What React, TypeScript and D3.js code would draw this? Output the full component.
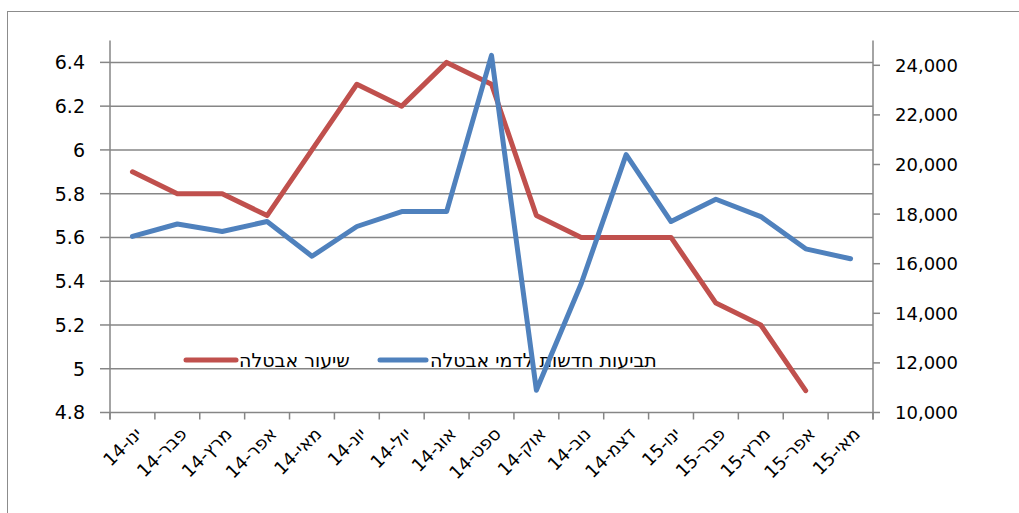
import React from "react";
import * as d3 from "d3";

const categories = [
  "ינו-14", "פבר-14", "מרץ-14", "אפר-14", "מאי-14", "יונ-14", "יול-14", "אוג-14",
  "ספט-14", "אוק-14", "נוב-14", "דצמ-14", "ינו-15", "פבר-15", "מרץ-15", "אפר-15", "מאי-15",
];

// שיעור אבטלה (left axis, %)
const unemploymentRate: (number | null)[] = [
  5.9, 5.8, 5.8, 5.7, 6.0, 6.3, 6.2, 6.4, 6.3, 5.7, 5.6, 5.6, 5.6, 5.3, 5.2, 4.9, null,
];

// תביעות חדשות לדמי אבטלה (right axis)
const newClaims = [
  17100, 17600, 17300, 17700, 16300, 17500, 18100, 18100, 24400, 10900, 15200, 20400,
  17700, 18600, 17900, 16600, 16200,
];

const leftTicks = [4.8, 5.0, 5.2, 5.4, 5.6, 5.8, 6.0, 6.2, 6.4];
const rightTicks = [10000, 12000, 14000, 16000, 18000, 20000, 22000, 24000];

const seriesNames = ["שיעור אבטלה", "תביעות חדשות לדמי אבטלה"];
const seriesColors = ["#C0504D", "#4F81BD"];

export default function App() {
  const W = 1019;
  const H = 513;
  const left = 110;
  const right = 873;
  const top = 40.5;
  const bottom = 412.5;
  const font = "'DejaVu Sans', sans-serif";
  const axisColor = "#868686";

  const x = d3.scaleBand<string>().domain(categories).range([left, right]).padding(0);
  const yL = d3.scaleLinear().domain([4.8, 6.5]).range([bottom, top]);
  const yR = d3.scaleLinear().domain([10000, 25000]).range([bottom, top]);
  const cx = (i: number) => (x(categories[i]) as number) + x.bandwidth() / 2;

  const redLine = d3
    .line<number | null>()
    .defined((d) => d !== null)
    .x((_, i) => cx(i))
    .y((d) => yL(d as number));
  const blueLine = d3
    .line<number>()
    .x((_, i) => cx(i))
    .y((d) => yR(d));

  const fmtL = (v: number) => (Math.round(v * 10) % 10 === 0 ? d3.format("d")(v) : d3.format(".1f")(v));
  const fmtR = d3.format(",");

  const boundaries = d3.range(categories.length + 1).map((i) => left + i * x.bandwidth());

  return (
    <svg
      width={W}
      height={H}
      style={{ position: "absolute", left: 0, top: 0, background: "#fff" }}
      fontFamily={font}
    >
      <rect x={0} y={0} width={W} height={H} fill="#fff" />
      {/* chart border */}
      <rect x={7.5} y={11.5} width={W + 20} height={H + 20} fill="none" stroke="#8c8c8c" strokeWidth={1} />

      {/* gridlines */}
      {leftTicks.slice(1).map((t) => (
        <line key={"g" + t} x1={left} x2={right} y1={yL(t)} y2={yL(t)} stroke={axisColor} strokeWidth={1.5} />
      ))}

      {/* left axis */}
      <line x1={left} x2={left} y1={top} y2={bottom + 7} stroke={axisColor} strokeWidth={1.5} />
      {leftTicks.map((t) => (
        <g key={"l" + t}>
          <line x1={left - 10} x2={left} y1={yL(t)} y2={yL(t)} stroke={axisColor} strokeWidth={1.5} />
          <text x={85} y={yL(t)} dy="0.36em" textAnchor="end" fontSize={19} fill="#000">
            {fmtL(t)}
          </text>
        </g>
      ))}

      {/* right axis */}
      <line x1={right} x2={right} y1={top} y2={bottom + 7} stroke={axisColor} strokeWidth={1.5} />
      {rightTicks.map((t) => (
        <g key={"r" + t}>
          <line x1={right} x2={right + 7} y1={yR(t)} y2={yR(t)} stroke={axisColor} strokeWidth={1.5} />
          <text x={895} y={yR(t)} dy="0.36em" textAnchor="start" fontSize={18} fill="#000">
            {fmtR(t)}
          </text>
        </g>
      ))}

      {/* x axis */}
      <line x1={left} x2={right} y1={bottom} y2={bottom} stroke={axisColor} strokeWidth={1.5} />
      {boundaries.map((b, i) => (
        <line key={"xt" + i} x1={b} x2={b} y1={bottom} y2={bottom + 7} stroke={axisColor} strokeWidth={1.5} />
      ))}
      {categories.map((c, i) => (
        <text
          key={"xl" + c}
          transform={`translate(${cx(i) + 6},${bottom + 18}) rotate(-45)`}
          textAnchor="end"
          dy="0.36em"
          fontSize={18}
          fill="#000"
        >
          {c}
        </text>
      ))}

      {/* legend */}
      <g>
        <line x1={186} x2={236} y1={360} y2={360} stroke={seriesColors[0]} strokeWidth={5} strokeLinecap="round" />
        <text x={239} y={360} dy="0.36em" fontSize={19} fill="#000">
          {seriesNames[0]}
        </text>
        <line x1={380} x2={426} y1={360} y2={360} stroke={seriesColors[1]} strokeWidth={5} strokeLinecap="round" />
        <text x={430} y={360} dy="0.36em" fontSize={19} fill="#000">
          {seriesNames[1]}
        </text>
      </g>

      {/* series */}
      <path d={redLine(unemploymentRate) || ""} fill="none" stroke={seriesColors[0]} strokeWidth={5} strokeLinejoin="round" strokeLinecap="round" />
      <path d={blueLine(newClaims) || ""} fill="none" stroke={seriesColors[1]} strokeWidth={5} strokeLinejoin="round" strokeLinecap="round" />
    </svg>
  );
}
